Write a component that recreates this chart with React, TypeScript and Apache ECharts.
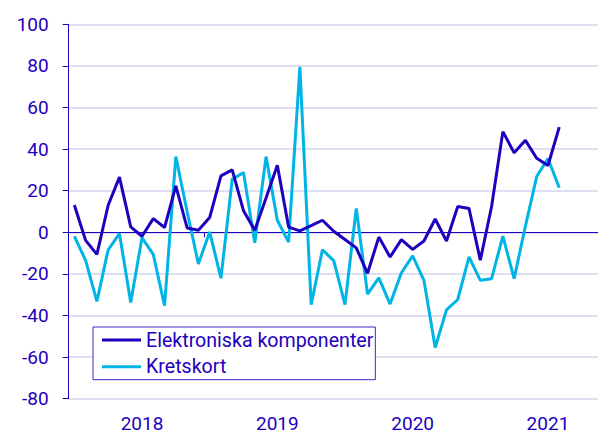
import React, { useEffect, useRef } from "react";
import * as echarts from "echarts";

const years = [2018, 2019, 2020, 2021];
const monthsPerYear = 12;
const seriesNames = ["Elektroniska komponenter", "Kretskort"];
const elektroniska = [
  13.1, -3.9, -10.6, 13, 26.5, 2.6, -1.9, 6.6, 2.3, 22.3, 2.1, 1.0,
  7.1, 27.1, 30, 10.4, 1, 16.5, 32.2, 2.5, 0.7, 3.2, 5.8, 0.5,
  -3.5, -7.5, -19.7, -2.3, -11.9, -3.5, -8.2, -4.2, 6.4, -4.2, 12.4, 11.4,
  -13.4, 12.4, 48.4, 38.2, 44.2, 35.6, 32.1, 50.6,
];
const kretskort = [
  -1.9, -13.5, -33.2, -8.4, -0.6, -33.7, -2.6, -10.6, -35.3, 36.4, 10, -15.2,
  0.2, -22.1, 25.5, 28.7, -5, 36.4, 5.8, -4.7, 79.5, -34.8, -8.4, -13.6,
  -34.8, 11.5, -29.7, -21.9, -34.5, -19.5, -11.3, -23.1, -55.4, -37.3, -32.3, -11.8,
  -23.1, -22.3, -1.8, -22.3, 3, 26.8, 35.5, 21.4,
];
const yTicks = { min: -80, max: 100, interval: 20 };

const DARK = "#1e00be";
const LIGHT = "#00b4e6";
const GRID = "#d4d4f0";
const BORDER = "#3a28c4";
const FONT = "Roboto";

export default function App() {
  const ref = useRef<HTMLDivElement>(null);
  useEffect(() => {
    if (!ref.current) return;
    const chart = echarts.init(ref.current, undefined, { renderer: "svg" });
    const categories: string[] = [];
    years.forEach((y) => {
      for (let m = 1; m <= monthsPerYear; m++) categories.push(`${y}-${String(m).padStart(2, "0")}`);
    });
    chart.setOption({
      animation: false,
      textStyle: { fontFamily: FONT },
      grid: { left: 68.7, top: 24.3, bottom: 35.3, right: 0, containLabel: false },
      legend: {
        orient: "vertical",
        left: 93,
        top: 327,
        padding: [2, 2, 2, 9],
        itemGap: 4.7,
        itemWidth: 39,
        itemHeight: 3,
        icon: "rect",
        backgroundColor: "#ffffff",
        borderColor: BORDER,
        borderWidth: 1,
        textStyle: { color: DARK, fontSize: 19.6, fontFamily: FONT, lineHeight: 22 },
        data: seriesNames,
      },
      xAxis: [
        {
          type: "category",
          data: categories,
          boundaryGap: true,
          axisLine: { show: true, onZero: true, lineStyle: { color: DARK, width: 1 } },
          axisTick: {
            show: true,
            length: 5,
            interval: (i: number) => i % monthsPerYear === 0,
            lineStyle: { color: DARK, width: 1 },
          },
          axisLabel: { show: false },
          splitLine: { show: false },
        },
        {
          type: "category",
          data: categories,
          position: "bottom",
          boundaryGap: true,
          axisLine: { show: false, onZero: false },
          axisTick: { show: false },
          axisLabel: {
            show: true,
            interval: (i: number) => i % monthsPerYear === 6,
            formatter: (v: string) => v.slice(0, 4),
            color: DARK,
            fontSize: 19,
            fontFamily: FONT,
            margin: 15,
          },
          splitLine: { show: false },
        },
      ],
      yAxis: {
        type: "value",
        min: yTicks.min,
        max: yTicks.max,
        interval: yTicks.interval,
        axisLine: { show: true, lineStyle: { color: DARK, width: 1 } },
        axisTick: { show: true, length: 6, lineStyle: { color: DARK, width: 1 } },
        axisLabel: { color: DARK, fontSize: 19, fontFamily: FONT, margin: 20 },
        splitLine: { show: true, lineStyle: { color: GRID, width: 1.5 } },
      },
      series: [
        {
          name: seriesNames[0],
          type: "line",
          data: elektroniska,
          xAxisIndex: 0,
          showSymbol: false,
          symbol: "none",
          lineStyle: { color: DARK, width: 3 },
          itemStyle: { color: DARK },
          z: 3,
        },
        {
          name: seriesNames[1],
          type: "line",
          data: kretskort,
          xAxisIndex: 0,
          showSymbol: false,
          symbol: "none",
          lineStyle: { color: LIGHT, width: 3 },
          itemStyle: { color: LIGHT },
          z: 2,
        },
      ],
    });
    return () => chart.dispose();
  }, []);
  return (
    <div
      style={{
        position: "fixed",
        left: 0,
        top: 0,
        width: 598,
        height: 434,
        overflow: "hidden",
        background: "#fff",
      }}
    >
      <div ref={ref} style={{ width: 610, height: 434 }} />
    </div>
  );
}
